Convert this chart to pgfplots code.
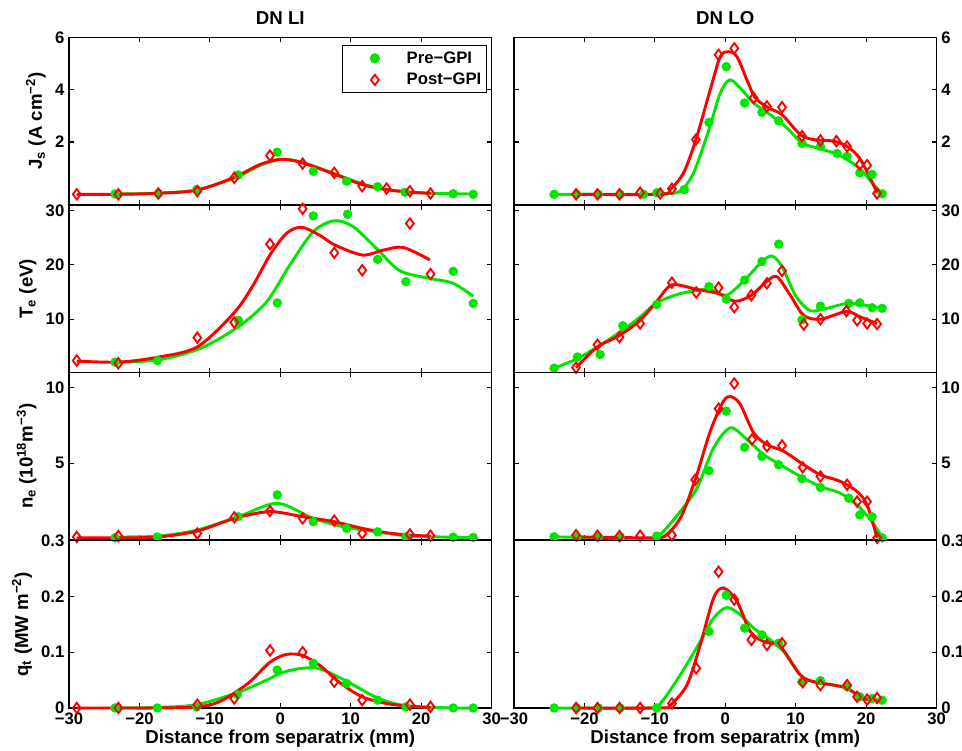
\documentclass[border=0pt]{standalone}
\usepackage{fontspec}
\setmainfont{Liberation Sans}
\usepackage{pgfplots}
\pgfplotsset{compat=1.18}
\definecolor{mygreen}{RGB}{0,230,0}
\definecolor{myred}{RGB}{255,0,0}
\pgfplotsset{
  panel/.style={
    scale only axis, width=316.9pt, height=125.6pt,
    xmin=-30, xmax=30, xtick={-30,-20,-10,0,10,20,30},
    xticklabels={},
    tick align=inside,
    major tick length=3.5pt,
    axis line style={line width=1.1pt},
    every tick/.style={black, line width=0.8pt},
    ticklabel style={font=\bfseries\fontsize{12.5}{14}\selectfont},
    /pgf/number format/assume math mode=true,
    label style={font=\bfseries\fontsize{14}{16}\selectfont},
    title style={font=\bfseries\fontsize{14}{16}\selectfont},
    clip=false,
    xticklabel pos=lower,
    anchor=north west,
  },
  lcol/.style={panel, yticklabel pos=left},
  rcol/.style={panel, yticklabel pos=right},
  bottomrow/.style={xticklabels={−30,−20,−10,0,10,20,30}, xlabel={Distance from separatrix (mm)},
    xlabel style={yshift=3pt}},
  gcurve/.style={smooth, no markers, line width=2.2pt, color=mygreen, forget plot},
  rcurve/.style={smooth, no markers, line width=2.2pt, color=myred, forget plot},
  gpts/.style={only marks, mark=*, mark size=3.3pt, color=mygreen,
    legend image code/.code={\path[draw=none,fill=none] (0,0) -- (1.55cm,0); \draw[##1] plot coordinates {(0.78cm,0cm)};}},
  rpts/.style={only marks, mark=diamond, mark size=3.9pt, color=myred, mark options={line width=1.4pt, fill=none},
    legend image code/.code={\path[draw=none,fill=none] (0,0) -- (1.55cm,0); \draw[##1] plot coordinates {(0.78cm,0cm)};}},
}
\begin{document}
\begin{tikzpicture}
% ---------------- Row 1: Js ----------------
\begin{axis}[lcol, at={(51.75pt,-27.975pt)}, ymin=-0.4, ymax=6, ytick={2,4,6}, yticklabels={2,4,6},
  title={DN LI}, ylabel={J\textsubscript{s} (A cm\textsuperscript{−2})},
  legend style={at={(0.99,0.955)}, anchor=north east, draw=black, line width=1pt,
    font=\bfseries\fontsize{12.5}{14}\selectfont, row sep=2pt, inner ysep=2.5pt, inner xsep=2pt},
  legend cell align=left]
\addplot[gcurve] coordinates {(-23.46,0.01)(-17.31,0.04)(-11.87,0.17)(-6.5,0.62)(-2.88,1.1)(0.19,1.34)(3.18,1.22)(7.53,0.8)(11.64,0.4)(15.1,0.18)(18.41,0.08)(21.34,0.04)(24.56,0.02)(27.40,0.01)};
\addplot[rcurve] coordinates {(-28.9,0.0)(-22.99,0.0)(-17.31,0.04)(-11.78,0.16)(-6.53,0.65)(-2.88,1.14)(0.19,1.34)(3.18,1.2)(7.53,0.79)(11.64,0.37)(15.1,0.18)(18.41,0.08)(21.34,0.04)};
\addplot[gpts] coordinates {(-23.46,0.01)(-17.31,0.03)(-11.87,0.18)(-5.96,0.74)(-0.42,1.61)(4.69,0.88)(9.42,0.50)(13.82,0.29)(17.70,0.08)(24.56,0.02)(27.40,0.0)};
\addlegendentry{Pre−GPI}
\addplot[rpts] coordinates {(-28.9,0.0)(-22.99,0.0)(-17.31,0.03)(-11.78,0.12)(-6.53,0.63)(-1.46,1.48)(3.18,1.17)(7.67,0.82)(11.64,0.31)(15.10,0.22)(18.41,0.12)(21.34,0.03)};
\addlegendentry{Post−GPI}
\end{axis}
\begin{axis}[rcol, at={(385.5pt,-27.975pt)}, ymin=-0.4, ymax=6, ytick={2,4,6}, yticklabels={2,4,6},
  title={DN LO}]
\addplot[gcurve] coordinates {(-24.31,0)(-11.14,0)(-8.77,0.02)(-6.40,0.12)(-4.50,0.82)(-2.32,2.47)(-0.71,3.87)(0.62,4.37)(2.13,4.06)(4.03,3.49)(6.40,3.04)(8.77,2.53)(10.90,1.96)(13.03,1.77)(15.40,1.58)(17.30,1.33)(19.20,0.95)(21.09,0.37)(22.28,0)};
\addplot[rcurve] coordinates {(-21.19,0)(-9.24,0)(-7.82,0.18)(-5.92,0.82)(-4.17,2.09)(-2.13,4.0)(-0.71,5.26)(0.47,5.45)(1.66,5.26)(3.08,4.37)(4.27,3.68)(6.16,3.30)(8.06,3.04)(10.66,2.28)(12.56,2.09)(15.40,2.03)(17.30,1.83)(19.20,1.33)(21.56,0.06)};
\addplot[gpts] coordinates {(-24.31,0.0)(-21.09,0.0)(-18.01,0.0)(-14.93,0.0)(-11.61,0.0)(-9.72,0.06)(-5.83,0.18)(-2.32,2.75)(0.14,4.88)(2.75,3.49)(5.21,3.13)(7.58,2.81)(10.90,1.94)(13.51,1.83)(15.88,1.56)(17.30,1.45)(19.10,0.82)(20.85,0.76)(22.28,0.02)};
\addplot[rpts] coordinates {(-21.19,0)(-18.15,0)(-15.02,0)(-12.09,0.06)(-9.24,0.03)(-7.58,0.21)(-4.17,2.09)(-0.95,5.33)(1.28,5.58)(4.03,3.68)(5.92,3.36)(8.06,3.33)(10.90,2.22)(13.51,2.06)(15.78,2.03)(17.30,1.83)(19.10,1.14)(20.14,1.11)(21.56,0.03)};
\end{axis}
% ---------------- Row 2: Te ----------------
\begin{axis}[lcol, at={(51.75pt,-153.75pt)}, ymin=0.2, ymax=31, ytick={10,20,30}, yticklabels={10,20,30},
  ylabel={T\textsubscript{e} (eV)}]
\addplot[gcurve] coordinates {(-23.46,2.1)(-17.45,2.5)(-11.40,4.6)(-5.96,8.6)(-1.93,13.2)(1.38,20)(4.69,26.1)(7.67,28.1)(10.37,27)(13.82,22.8)(16.99,18.9)(21.25,17.5)(24.56,16.6)(27.40,14.2)};
\addplot[rcurve] coordinates {(-28.9,2.3)(-22.99,2.1)(-17.45,3.0)(-11.78,4.9)(-6.53,11.2)(-3.83,16.3)(-1.46,21.8)(0.90,25.8)(3.03,26.9)(5.64,25.4)(7.67,23.7)(11.64,21.8)(14.62,22.7)(17.46,23.2)(21.25,20.9)};
\addplot[gpts] coordinates {(-23.46,2.1)(-17.45,2.4)(-5.96,9.8)(-0.42,13.0)(4.69,29.0)(9.56,29.3)(13.82,21.0)(17.84,16.9)(24.56,18.8)(27.40,12.9)};
\addplot[rpts] coordinates {(-28.9,2.4)(-22.99,1.9)(-11.78,6.6)(-6.53,9.4)(-1.46,23.8)(3.18,30.3)(7.67,22.2)(11.64,19.0)(18.41,27.6)(21.34,18.3)};
\end{axis}
\begin{axis}[rcol, at={(385.5pt,-153.75pt)}, ymin=0.2, ymax=31, ytick={10,20,30}, yticklabels={10,20,30}]
\addplot[gcurve] coordinates {(-24.31,1.0)(-21.09,2.7)(-17.77,5.2)(-14.55,8.0)(-12.09,10.4)(-9.72,13.0)(-6.40,14.7)(-2.32,15.5)(0.14,14.4)(2.75,17.2)(5.21,20.6)(6.64,21.6)(8.06,19.7)(9.95,14.4)(11.85,11.7)(13.51,11.7)(17.30,12.9)(19.67,12.6)(22.28,12.0)};
\addplot[rcurve] coordinates {(-21.19,1.1)(-18.15,4.9)(-15.02,7.0)(-12.09,9.8)(-9.72,13.3)(-7.58,16.3)(-4.12,15.5)(-0.95,14.7)(1.42,13.3)(3.70,14.4)(5.92,17.0)(7.35,17.8)(9.24,14.4)(11.14,10.7)(13.51,10.0)(17.20,11.4)(19.20,10.4)(21.56,9.2)};
\addplot[gpts] coordinates {(-24.31,1.0)(-21.0,3.05)(-17.77,3.5)(-14.55,8.8)(-9.72,12.7)(-2.32,16.0)(0.14,13.7)(2.75,17.2)(5.21,20.6)(7.58,23.8)(10.90,9.9)(13.51,12.4)(17.54,12.9)(19.10,13.0)(20.85,12.1)(22.28,12.0)};
\addplot[rpts] coordinates {(-21.19,1.1)(-18.15,5.3)(-15.02,6.7)(-12.09,9.2)(-7.58,16.7)(-4.12,14.9)(-0.95,15.8)(1.28,12.2)(3.70,14.4)(5.92,16.6)(8.06,18.9)(11.14,9.0)(13.51,10.0)(17.20,11.5)(18.72,9.8)(20.14,9.2)(21.56,9.1)};
\end{axis}
% ---------------- Row 3: ne ----------------
\begin{axis}[lcol, at={(51.75pt,-279.375pt)}, ymin=-0.1, ymax=11, ytick={5,10}, yticklabels={5,10},
  ylabel={n\textsubscript{e} (10\textsuperscript{18}m\textsuperscript{−3})}]
\addplot[gcurve] coordinates {(-23.46,0.1)(-17.45,0.15)(-11.87,0.55)(-5.96,1.44)(-0.42,2.33)(4.69,1.33)(9.42,0.73)(13.82,0.44)(17.84,0.18)(24.56,0.08)(27.40,0.07)};
\addplot[rcurve] coordinates {(-28.9,0.04)(-22.99,0.04)(-17.31,0.1)(-11.78,0.49)(-6.53,1.33)(-1.46,1.78)(3.18,1.44)(7.67,1.11)(11.64,0.67)(15.10,0.38)(18.41,0.22)(21.34,0.16)};
\addplot[gpts] coordinates {(-23.46,0.04)(-17.45,0.1)(-5.96,1.44)(-0.42,2.89)(4.69,1.11)(9.42,0.67)(13.82,0.44)(17.84,0.11)(24.56,0.09)(27.40,0.07)};
\addplot[rpts] coordinates {(-28.9,0.1)(-22.99,0.16)(-11.78,0.33)(-6.53,1.4)(-1.46,1.82)(3.18,1.33)(7.67,1.18)(11.64,0.33)(18.41,0.27)(21.34,0.18)};
\end{axis}
\begin{axis}[rcol, at={(385.5pt,-279.375pt)}, ymin=-0.1, ymax=11, ytick={5,10}, yticklabels={5,10}]
\addplot[gcurve] coordinates {(-24.31,0.11)(-11.14,0.0)(-9.24,0.27)(-6.40,1.78)(-4.03,3.33)(-1.66,6.0)(0.71,7.33)(3.08,6.56)(5.45,5.56)(7.82,4.89)(10.66,4.11)(13.51,3.44)(16.35,3.0)(18.72,2.22)(20.85,1.11)(22.28,0.04)};
\addplot[rcurve] coordinates {(-21.19,0.11)(-11.14,0.04)(-8.77,0.11)(-6.40,1.33)(-4.27,3.89)(-2.13,7.11)(-0.24,9.11)(0.81,9.4)(2.13,8.89)(4.03,7.0)(5.92,6.22)(8.29,5.78)(11.14,4.89)(13.51,4.22)(16.35,3.78)(18.72,3.11)(20.14,2.22)(21.56,0.04)};
\addplot[gpts] coordinates {(-24.31,0.11)(-21.09,0.1)(-18.01,0.1)(-14.93,0.1)(-9.72,0.16)(-2.32,4.49)(0.14,8.44)(2.75,6.04)(5.21,5.44)(7.58,4.89)(10.90,3.96)(13.51,3.38)(17.54,2.67)(19.10,1.56)(20.85,1.44)(22.28,0.04)};
\addplot[rpts] coordinates {(-21.19,0.22)(-18.15,0.18)(-15.02,0.16)(-12.09,0.18)(-7.58,0.22)(-4.27,3.89)(-0.95,8.6)(1.28,10.27)(3.79,6.56)(5.92,6.11)(8.06,6.16)(11.0,4.71)(13.51,4.11)(17.30,3.56)(18.72,2.44)(20.14,2.44)(21.56,0.04)};
\end{axis}
% ---------------- Row 4: qt ----------------
\begin{axis}[lcol, bottomrow, at={(51.75pt,-405.375pt)}, ymin=0, ymax=0.3, ytick={0,0.1,0.2,0.3}, yticklabels={0,0.1,0.2,0.3},
  ylabel={q\textsubscript{t} (MW m\textsuperscript{−2})}]
\addplot[gcurve] coordinates {(-23.46,0)(-17.45,0.001)(-11.87,0.006)(-5.96,0.028)(-1.93,0.05)(0.19,0.063)(3.03,0.071)(5.64,0.07)(9.42,0.048)(13.82,0.018)(17.84,0.004)(24.56,0)(27.40,0)};
\addplot[rcurve] coordinates {(-28.9,0)(-22.99,0)(-17.45,0)(-11.78,0.002)(-8.5,0.012)(-4.5,0.045)(-1.46,0.082)(0.9,0.096)(3.18,0.094)(5.64,0.076)(8.5,0.045)(11.64,0.02)(15.1,0.008)(18.41,0.003)(21.34,0.001)};
\addplot[gpts] coordinates {(-23.46,0)(-17.45,0)(-11.87,0.002)(-6.10,0.024)(-0.42,0.068)(4.69,0.08)(9.42,0.044)(13.82,0.014)(17.84,0.002)(24.56,0)(27.40,0)};
\addplot[rpts] coordinates {(-28.9,0)(-22.99,0)(-11.78,0.006)(-6.53,0.017)(-1.46,0.103)(3.18,0.10)(7.67,0.047)(11.64,0.014)(18.41,0.006)(21.34,0.002)};
\end{axis}
\begin{axis}[rcol, bottomrow, at={(385.5pt,-405.375pt)}, ymin=0, ymax=0.3, ytick={0,0.1,0.2,0.3}, yticklabels={0,0.1,0.2,0.3}]
\addplot[gcurve] coordinates {(-24.31,0)(-11.14,0)(-9.24,0.008)(-6.40,0.059)(-3.55,0.119)(-1.66,0.161)(0.24,0.18)(2.13,0.167)(4.03,0.143)(6.40,0.122)(8.29,0.101)(10.66,0.059)(12.56,0.047)(15.40,0.041)(17.30,0.035)(19.67,0.017)(22.28,0.014)};
\addplot[rcurve] coordinates {(-21.19,0)(-9.24,0)(-7.82,0.005)(-5.45,0.041)(-3.55,0.113)(-1.66,0.197)(-0.24,0.215)(1.66,0.191)(3.55,0.137)(5.45,0.119)(7.82,0.11)(10.66,0.059)(12.56,0.047)(15.40,0.041)(17.30,0.035)(19.67,0.017)(21.56,0.014)};
\addplot[gpts] coordinates {(-24.31,0)(-21.09,0)(-18.01,0)(-14.93,0)(-9.72,0)(-2.32,0.137)(0.14,0.202)(2.75,0.143)(5.21,0.131)(7.58,0.116)(10.90,0.047)(13.51,0.049)(17.30,0.038)(19.10,0.02)(20.85,0.017)(22.28,0.014)};
\addplot[rpts] coordinates {(-21.19,0)(-18.15,0)(-15.02,0)(-12.09,0)(-7.58,0.008)(-4.12,0.071)(-0.95,0.244)(1.28,0.194)(3.70,0.122)(5.92,0.113)(8.06,0.116)(11.0,0.046)(13.51,0.041)(17.30,0.041)(18.72,0.02)(20.14,0.015)(21.56,0.018)};
\end{axis}
\pgfresetboundingbox
\path[use as bounding box] (0,0) rectangle (721.5pt,-562.5pt);
\end{tikzpicture}
\end{document}
